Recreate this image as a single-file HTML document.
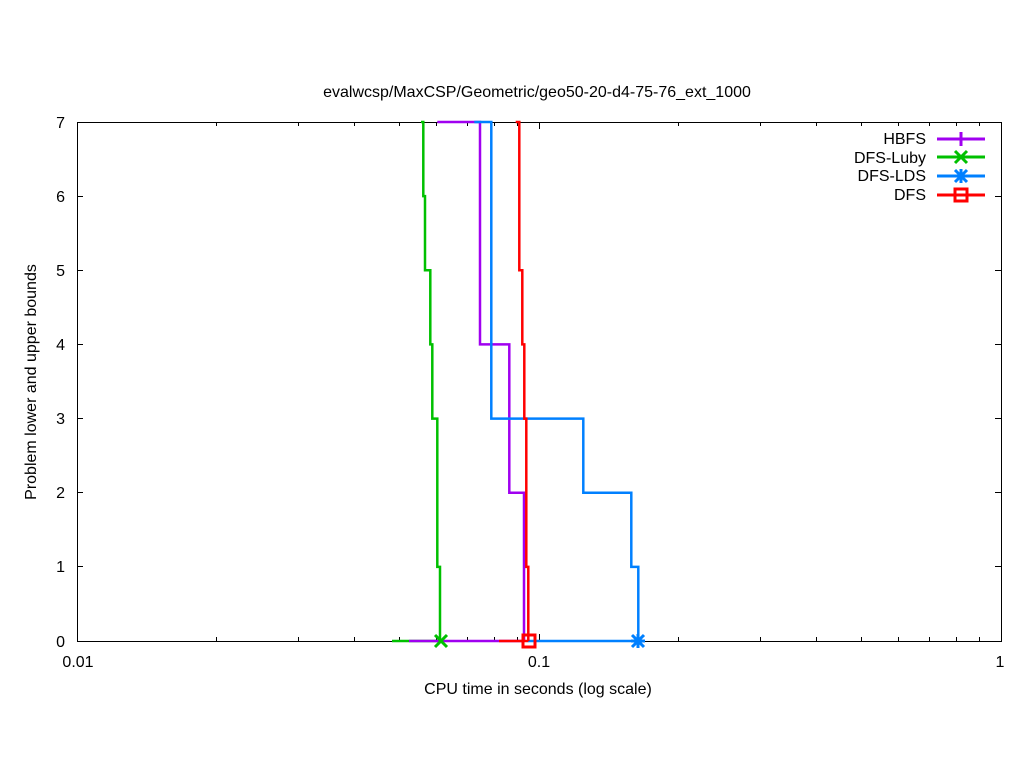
<!DOCTYPE html>
<html><head><meta charset="utf-8"><style>
html,body{margin:0;padding:0;background:#fff;}
svg text{font-family:"Liberation Sans",sans-serif;font-size:16px;fill:#000;}
</style></head><body>
<svg width="1024" height="768" viewBox="0 0 1024 768" xmlns="http://www.w3.org/2000/svg">
<rect width="1024" height="768" fill="#fff"/>
<g stroke="#000" stroke-width="1" fill="none">
<rect x="77.5" y="122.5" width="924" height="519"/>
<path d="M77 196.5h6M77 270.5h6M77 344.5h6M77 418.5h6M77 492.5h6M77 566.5h6M1001 196.5h-6M1001 270.5h-6M1001 344.5h-6M1001 418.5h-6M1001 492.5h-6M1001 566.5h-6"/>
<path d="M539.5 641v-7M539.5 122v7"/>
<path d="M216.5 641v-4M298.5 641v-4M354.5 641v-4M399.5 641v-4M436.5 641v-4M467.5 641v-4M494.5 641v-4M517.5 641v-4
M678.5 641v-4M760.5 641v-4M816.5 641v-4M861.5 641v-4M898.5 641v-4M929.5 641v-4M956.5 641v-4M979.5 641v-4
M216.5 122v4M298.5 122v4M354.5 122v4M399.5 122v4M436.5 122v4M467.5 122v4M494.5 122v4M517.5 122v4
M678.5 122v4M760.5 122v4M816.5 122v4M861.5 122v4M898.5 122v4M929.5 122v4M956.5 122v4M979.5 122v4"/>
</g>
<g text-anchor="end">
<text x="65" y="128">7</text><text x="65" y="202">6</text><text x="65" y="276">5</text><text x="65" y="350">4</text>
<text x="65" y="424">3</text><text x="65" y="498">2</text><text x="65" y="572">1</text><text x="65" y="647">0</text>
</g>
<g text-anchor="middle">
<text x="78" y="667">0.01</text><text x="539" y="667">0.1</text><text x="1000" y="667">1</text>
<text x="538" y="694">CPU time in seconds (log scale)</text>
<text x="537" y="97">evalwcsp/MaxCSP/Geometric/geo50-20-d4-75-76_ext_1000</text>
<text transform="translate(36,382) rotate(-90)">Problem lower and upper bounds</text>
</g>
<g fill="none" stroke-width="2.5">
<path stroke="#00c000" d="M421 122H423.3V196.1H425V270.3H430.3V344.4H432.3V418.6H437.3V566.9H440V641M392 641H440"/>
<path stroke="#a000f0" d="M437.3 122H480V344.4H509.3V492.7H524V641M409 641H524"/>
<path stroke="#0080ff" d="M474.3 122H491.3V418.6H583.3V492.7H631.3V566.9H638.3V641M528 641H638.3"/>
<path stroke="#ff0000" d="M515.7 122H519.3V270.3H522.3V344.4H524.3V418.6H526.3V566.9H528.3V641M499 641H528.3"/>
</g>
<g stroke-width="3" fill="none">
<path stroke="#00c000" d="M435 635l12 12M435 647l12-12"/>
<path stroke="#0080ff" d="M632 635l12 12M632 647l12-12M631 641h14M638 634v14"/>
<rect stroke="#ff0000" x="523" y="635" width="12" height="12"/>
</g>
<g text-anchor="end">
<text x="926" y="144">HBFS</text><text x="926" y="163">DFS-Luby</text><text x="926" y="181">DFS-LDS</text><text x="926" y="200">DFS</text>
</g>
<g stroke-width="3" fill="none">
<path stroke="#a000f0" d="M937 139H985M961 132v14"/>
<path stroke="#00c000" d="M937 157H985M955 151l12 12M955 163l12-12"/>
<path stroke="#0080ff" d="M937 176H985M955 170l12 12M955 182l12-12M961 169v14"/>
<path stroke="#ff0000" d="M937 195H985"/>
<rect stroke="#ff0000" x="955" y="189" width="12" height="12"/>
</g>
</svg>
</body></html>
